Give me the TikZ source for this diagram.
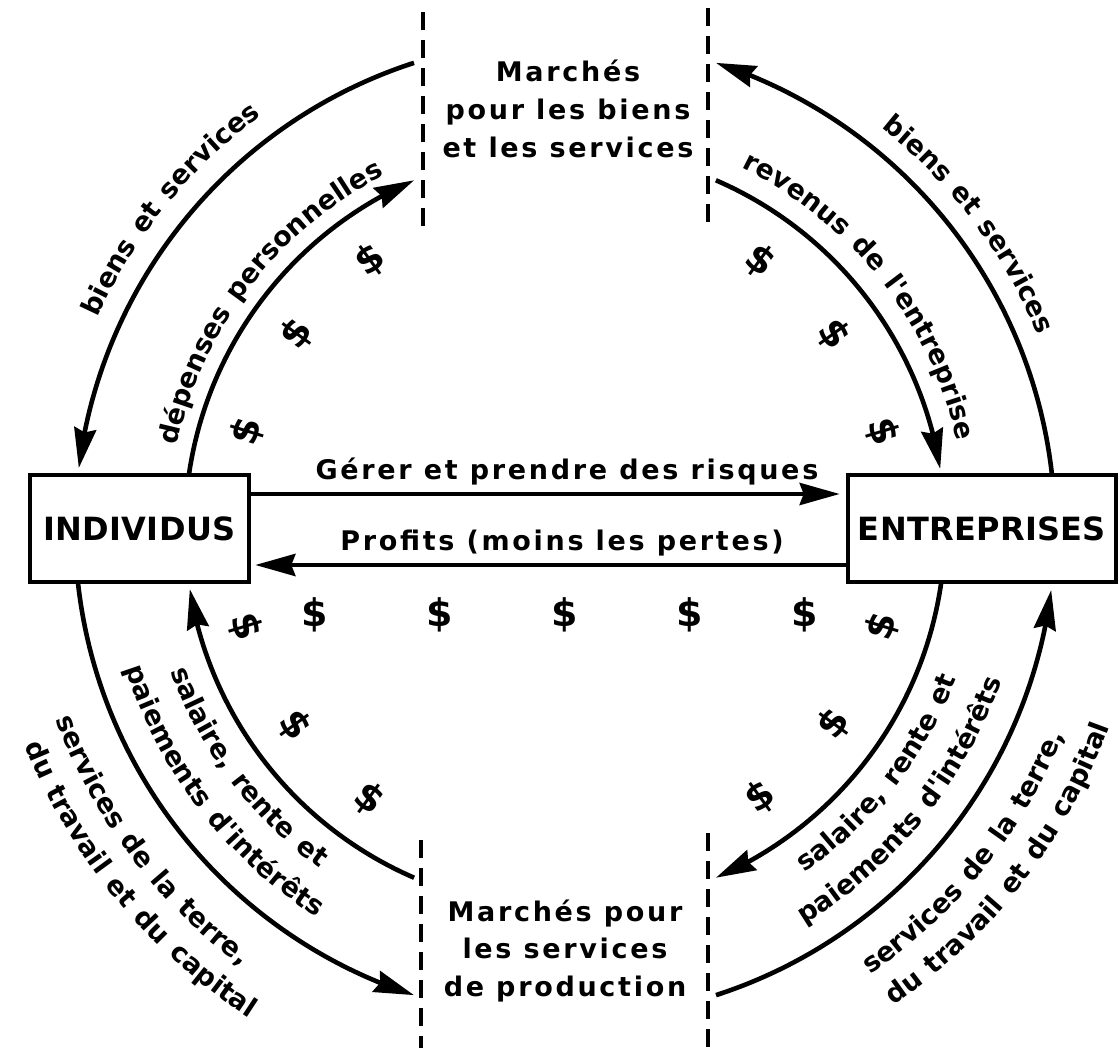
\documentclass[tikz,border=0pt]{standalone}
\usepackage{fontspec}
\setmainfont{DejaVu Sans}
\newfontfamily\labfam[LetterSpace=10]{DejaVu Sans}
\newfontfamily\boxfam[LetterSpace=1]{DejaVu Sans}
\usetikzlibrary{arrows.meta,bending,decorations.text,calc}
\newcommand\labf{\labfam\bfseries\fontsize{13.5}{18.9}\selectfont}
\newcommand\boxf{\boxfam\bfseries\fontsize{16}{20}\selectfont}
\newcommand\dolf{\bfseries\fontsize{19}{20}\selectfont}
\newcommand\arclabel[4]{\path[decorate,decoration={text along path,text={|\labf|#4},text align=center}] ($(C)+(#1:#3)$) arc[start angle=#1,end angle=#2,radius=#3];}
\tikzset{
  flow/.style={line width=2.3pt,-{Stealth[length=20pt,width=11pt,inset=2pt]}},
  box/.style={draw,line width=2.3pt,minimum width=109.5pt,minimum height=53.5pt,inner sep=0pt,font=\boxf},
  mk/.style={dash pattern=on 9pt off 5pt,line width=2pt},
  dollar/.style={font=\dolf,inner sep=0pt},
  lab/.style={font=\labf,inner sep=0pt}
}
\begin{document}
\begin{tikzpicture}[x=0.5pt,y=0.5pt]
\path[use as bounding box,fill=white] (0,0) rectangle (1119,-1053);
\coordinate (C) at (565,-529);
% boxes
\node[box] (ind) at (139.5,-528.5) {INDIVIDUS};
\node[box,minimum width=134pt] (ent) at (982,-528.5) {ENTREPRISES};
% straight flows
\draw[flow,shorten >=3pt] ($(ind.east)+(0,34.5)$) -- ($(ent.west)+(0,34.5)$);
\draw[flow,shorten >=2pt] ($(ent.west)+(0,-36.5)$) -- ($(ind.east)+(0,-36.5)$);
\node[lab,anchor=base] (gerer) at (567,-480) {Gérer et prendre des risques};
\node[lab,anchor=base] (profits) at (562,-550) {Profits (moins les pertes)};
% markets
\node[lab,align=center] (mbs) at (568,-109) {Marchés\\pour les biens\\et les services};
\node[lab,align=center] (msp) at (565,-951) {Marchés pour\\les services\\de production};
\coordinate (d1a) at (423,-12);  \coordinate (d1b) at (423,-229);
\coordinate (d2a) at (708,-8);   \coordinate (d2b) at (708,-222);
\coordinate (d3a) at (421,-840); \coordinate (d3b) at (421,-1048);
\coordinate (d4a) at (708,-833); \coordinate (d4b) at (708,-1050);
\draw[mk] (d1a) -- (d1b);
\draw[mk] (d2a) -- (d2b);
\draw[mk] (d3a) -- (d3b);
\draw[mk] (d4a) -- (d4b);
% circular flows
\coordinate (tlo) at ($(C)+(107.95:490)$);
\draw[flow] (tlo) arc[start angle=107.95,end angle=172.85,radius=490];
\coordinate (tli) at ($(C)+(171.83:380)$);
\draw[flow] (tli) arc[start angle=171.83,end angle=113.4,radius=380];
\coordinate (tro) at ($(C)+(6.33:490)$);
\draw[flow] (tro) arc[start angle=6.33,end angle=72.05,radius=490];
\coordinate (tri) at ($(C)+(66.6:380)$);
\draw[flow] (tri) arc[start angle=66.6,end angle=9.1,radius=380];
\coordinate (blo) at ($(C)+(186.21:490)$);
\draw[flow] (blo) arc[start angle=186.21,end angle=252.05,radius=490];
\coordinate (bli) at ($(C)+(246.6:380)$);
\draw[flow] (bli) arc[start angle=246.6,end angle=189.1,radius=380];
\coordinate (bri) at ($(C)+(-8.02:380)$);
\draw[flow] (bri) arc[start angle=-8.02,end angle=-66.6,radius=380];
\coordinate (bro) at ($(C)+(-72.05:490)$);
\draw[flow] (bro) arc[start angle=-72.05,end angle=-7.15,radius=490];
% curved labels
\arclabel{176}{106}{513}{biens et services}
\arclabel{177.5}{107.5}{397}{dépenses personnelles}
\arclabel{72}{2}{511}{biens et services}
\arclabel{73.3}{3.3}{402}{revenus de l'entreprise}
\arclabel{182}{252}{419}{salaire, rente et}
\arclabel{182.5}{252.5}{461}{paiements d'intérêts}
\arclabel{182}{252}{544}{services de la terre,}
\arclabel{184.5}{254.5}{582}{du travail et du capital}
\arclabel{-73}{-3}{419}{salaire, rente et}
\arclabel{-74}{-4}{462}{paiements d'intérêts}
\arclabel{-74}{-4}{540}{services de la terre,}
\arclabel{-72.7}{-2.7}{579}{du travail et du capital}
% dollars
\foreach \a/\n in {126/1,144/2,163/3}
  \node[dollar,rotate=\a-90] (dtl\n) at ($(C)+(\a:332)$) {\$};
\foreach \a/\n in {54/1,36/2,17/3}
  \node[dollar,rotate=\a-90] (dtr\n) at ($(C)+(\a:332)$) {\$};
\foreach \a/\n in {197/1,216/2,234/3}
  \node[dollar,rotate=\a+90] (dbl\n) at ($(C)+(\a:334)$) {\$};
\foreach \a/\n in {-17/1,-36/2,-54/3}
  \node[dollar,rotate=\a+90] (dbr\n) at ($(C)+(\a:332)$) {\$};
\foreach \x/\n in {315/1,440/2,565/3,690/4,805/5}
  \node[dollar] (dr\n) at (\x,-615) {\$};
\end{tikzpicture}
\end{document}
